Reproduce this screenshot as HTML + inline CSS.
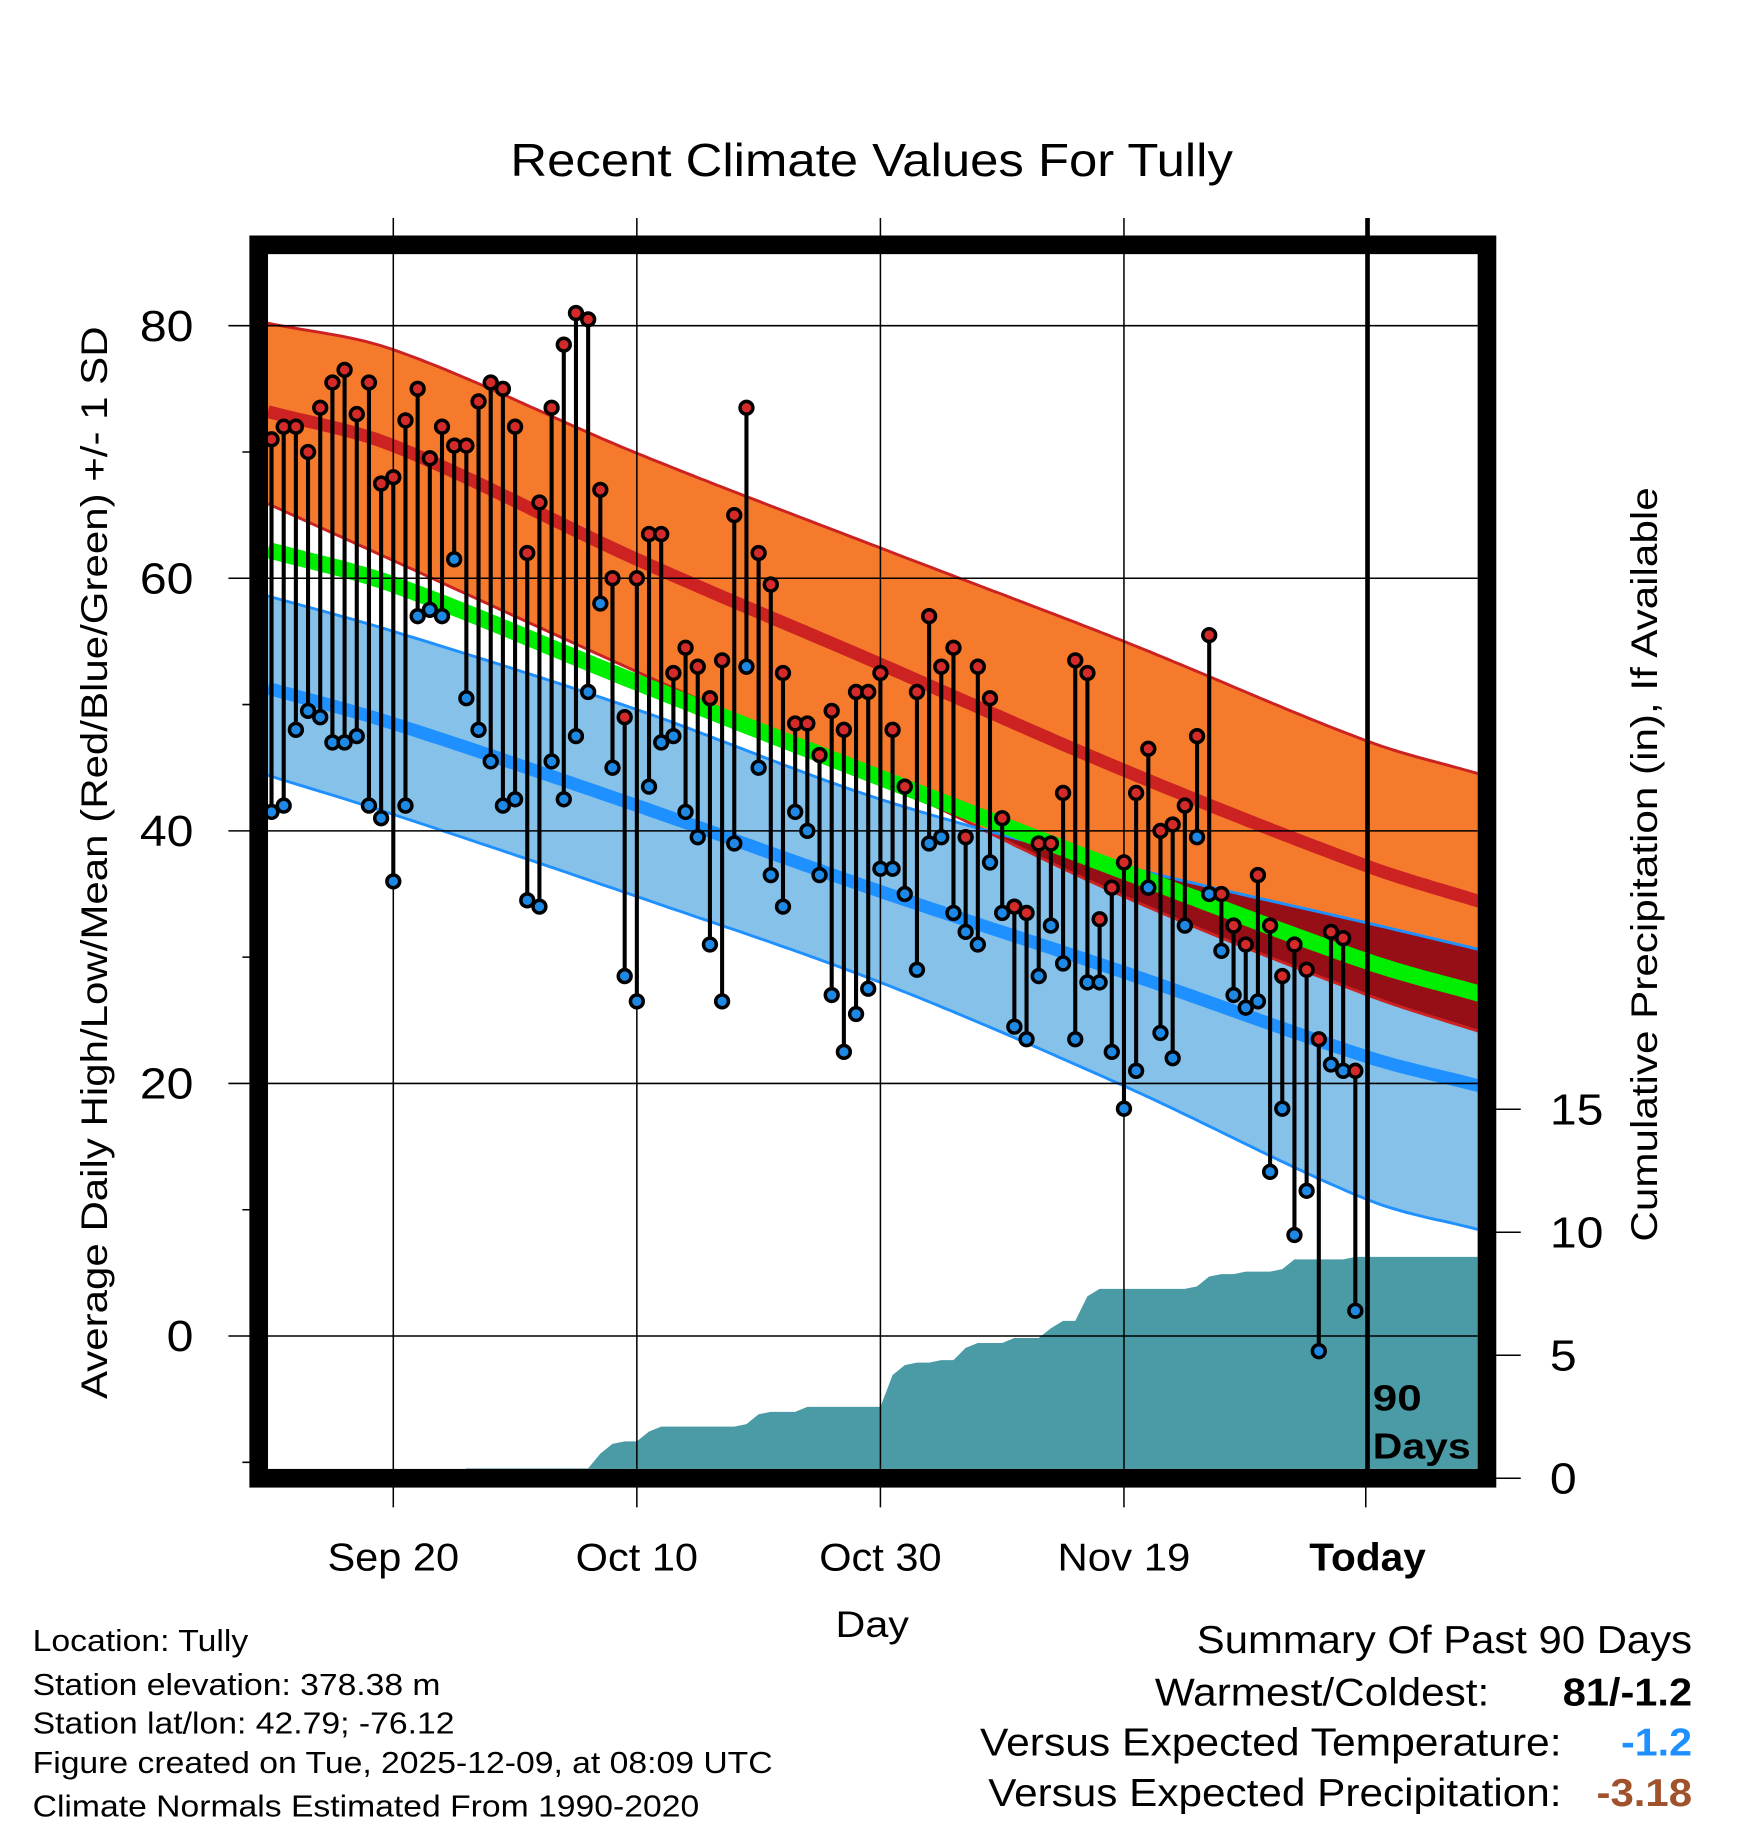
<!DOCTYPE html>
<html><head><meta charset="utf-8"><style>
html,body{margin:0;padding:0;background:#fff}
svg{display:block}
text{font-family:"Liberation Sans",sans-serif}
</style></head><body>
<svg id="chart" xmlns="http://www.w3.org/2000/svg" width="1748" height="1828" viewBox="0 0 1500 1568" preserveAspectRatio="none">
<defs><clipPath id="plotclip"><rect x="230" y="217" width="1038" height="1043"/></clipPath></defs>
<g id="bands" clip-path="url(#plotclip)"></g>
<g id="grid"></g>
<g id="marks"></g>
<rect x="222" y="210" width="1054" height="1058" fill="none" stroke="#000" stroke-width="16"/>
<text x="438" y="151" font-size="40" textLength="620" lengthAdjust="spacingAndGlyphs">Recent Climate Values For Tully</text>
<text transform="translate(92,1200) rotate(-90)" font-size="32" textLength="920" lengthAdjust="spacingAndGlyphs">Average Daily High/Low/Mean (Red/Blue/Green) +/- 1 SD</text>
<text transform="translate(1422,1065) rotate(-90)" font-size="32" textLength="647" lengthAdjust="spacingAndGlyphs">Cumulative Precipitation (in), If Available</text>
<text x="717" y="1404" font-size="32" textLength="63" lengthAdjust="spacingAndGlyphs">Day</text>
<g id="ticks"></g>
<text x="1178" y="1210" font-size="31" font-weight="bold" textLength="42" lengthAdjust="spacingAndGlyphs">90</text>
<text x="1178" y="1251" font-size="31" font-weight="bold" textLength="84" lengthAdjust="spacingAndGlyphs">Days</text>
<g font-size="26">
<text x="28" y="1416" textLength="185" lengthAdjust="spacingAndGlyphs">Location: Tully</text>
<text x="28" y="1454" textLength="350" lengthAdjust="spacingAndGlyphs">Station elevation: 378.38 m</text>
<text x="28" y="1487" textLength="362" lengthAdjust="spacingAndGlyphs">Station lat/lon: 42.79; -76.12</text>
<text x="28" y="1521" textLength="635" lengthAdjust="spacingAndGlyphs">Figure created on Tue, 2025-12-09, at 08:09 UTC</text>
<text x="28" y="1558" textLength="572" lengthAdjust="spacingAndGlyphs">Climate Normals Estimated From 1990-2020</text>
</g>
<g font-size="33">
<text x="1027" y="1418" textLength="425" lengthAdjust="spacingAndGlyphs">Summary Of Past 90 Days</text>
<text x="991" y="1463" textLength="287" lengthAdjust="spacingAndGlyphs">Warmest/Coldest:</text>
<text x="1341" y="1463" font-weight="bold" textLength="111" lengthAdjust="spacingAndGlyphs">81/-1.2</text>
<text x="841" y="1506" textLength="499" lengthAdjust="spacingAndGlyphs">Versus Expected Temperature:</text>
<text x="1391" y="1506" font-weight="bold" fill="#1e90ff" textLength="61" lengthAdjust="spacingAndGlyphs">-1.2</text>
<text x="848" y="1549" textLength="492" lengthAdjust="spacingAndGlyphs">Versus Expected Precipitation:</text>
<text x="1370" y="1549" font-weight="bold" fill="#a0522d" textLength="82" lengthAdjust="spacingAndGlyphs">-3.18</text>
</g>
</svg>
<script>
const highs=[71,72,72,70,73.5,75.5,76.5,73,75.5,67.5,68,72.5,75,69.5,72,70.5,70.5,74,75.5,75,72,62,66,73.5,78.5,81,80.5,67,60,49,60,63.5,63.5,52.5,54.5,53,50.5,53.5,65,73.5,62,59.5,52.5,48.5,48.5,46,49.5,48,51,51,52.5,48,43.5,51,57,53,54.5,39.5,53,50.5,41,34,33.5,39,39,43,53.5,52.5,33,35.5,37.5,43,46.5,40,40.5,42,47.5,55.5,35,32.5,31,36.5,32.5,28.5,31,29,23.5,32,31.5,21];
const lows=[41.5,42,48,49.5,49,47,47,47.5,42,41,36,42,57,57.5,57,61.5,50.5,48,45.5,42,42.5,34.5,34,45.5,42.5,47.5,51,58,45,28.5,26.5,43.5,47,47.5,41.5,39.5,31,26.5,39,53,45,36.5,34,41.5,40,36.5,27,22.5,25.5,27.5,37,37,35,29,39,39.5,33.5,32,31,37.5,33.5,24.5,23.5,28.5,32.5,29.5,23.5,28,28,22.5,18,21,35.5,24,22,32.5,39.5,35,30.5,27,26,26.5,13,18,8,11.5,-1.2,21.5,21,2];
const precip=[0,0,0,0,0,0,0,0,0,0,0,0,0,0,0,0,0.4,0.4,0.4,0.4,0.4,0.4,0.4,0.4,0.4,0.4,0.4,1.0,1.4,1.5,1.5,1.9,2.1,2.1,2.1,2.1,2.1,2.1,2.1,2.2,2.6,2.7,2.7,2.7,2.9,2.9,2.9,2.9,2.9,2.9,2.9,4.2,4.6,4.7,4.7,4.8,4.8,5.3,5.5,5.5,5.5,5.7,5.7,5.7,6.1,6.4,6.4,7.4,7.7,7.7,7.7,7.7,7.7,7.7,7.7,7.7,7.8,8.2,8.3,8.3,8.4,8.4,8.4,8.5,8.9,8.9,8.9,8.9,8.9,9.0];
const normDays=[-0.3,10,30,50,70,90,99.2];
const highPlusSD=[80.2,78.1,69.9,62.4,55.0,47.1,44.5];
const highMean=[73.2,70.5,61.5,53.2,44.8,37.2,34.4];
const highMinusSD=[65.9,61.4,52.6,44.0,34.8,27.0,24.1];
const lowPlusSD=[58.6,55.8,49.6,42.5,37.2,32.7,30.6];
const lowMean=[51.3,48.5,42.0,35.2,28.8,22.1,19.8];
const lowMinusSD=[44.4,41.3,34.8,28.0,19.8,10.8,8.4];
const xTickDays=[10,30,50,70,90];
const xTickLabels=["Sep 20","Oct 10","Oct 30","Nov 19","Today"];
const xTickWidths=[113,105,105,114,100];
const yTicks=[0,20,40,60,80];
const yMinor=[-10,10,30,50,70];
const pTicks=[0,5,10,15];

const NS="http://www.w3.org/2000/svg";
const X=d=>233+10.45*d;
const Y=t=>1146-t*10.833;
const YP=p=>1268-p*21.1;
function mk(tag,attrs,parent){const e=document.createElementNS(NS,tag);for(const k in attrs)e.setAttribute(k,attrs[k]);parent.appendChild(e);return e;}
function slope(arr,i){const n=arr.length;const a=Math.max(0,i-1),b=Math.min(n-1,i+1);return (arr[b]-arr[a])/(normDays[b]-normDays[a]);}
function interp(arr,d){const n=normDays.length;let i=0;while(i<n-2&&d>normDays[i+1])i++;
const h=normDays[i+1]-normDays[i];let t=(d-normDays[i])/h;t=Math.max(0,Math.min(1,t));
const m0=slope(arr,i)*h,m1=slope(arr,i+1)*h;const t2=t*t,t3=t2*t;
return (2*t3-3*t2+1)*arr[i]+(t3-2*t2+t)*m0+(-2*t3+3*t2)*arr[i+1]+(t3-t2)*m1;}
const samples=[];for(let d=normDays[0];d<=normDays[normDays.length-1]+0.01;d+=0.5)samples.push(d);
function line(arr){return samples.map(d=>X(d).toFixed(1)+','+Y(interp(arr,d)).toFixed(1)).join(' ');}
function band(a,b){const top=samples.map(d=>X(d).toFixed(1)+','+Y(interp(a,d)).toFixed(1));const bot=samples.slice().reverse().map(d=>X(d).toFixed(1)+','+Y(interp(b,d)).toFixed(1));return top.concat(bot).join(' ');}
const bands=document.getElementById('bands');
let pp=[X(precip.length-1+10.3)+','+1268, X(-0.3)+','+1268];
for(let i=0;i<precip.length;i++)pp.push(X(i)+','+YP(precip[i]));
pp.push(X(precip.length-1+10.3)+','+YP(precip[precip.length-1]));
let e=mk('polygon',{points:pp.join(' '),fill:'#4a9ba5'},bands);


e=mk('polygon',{points:band(highPlusSD,highMinusSD),fill:'#f57a2c'},bands);


e=mk('polygon',{points:band(lowPlusSD,lowMinusSD),fill:'#85c1e9'},bands);


const ov=samples.map(d=>X(d).toFixed(1)+','+Y(interp(lowPlusSD,d)).toFixed(1)).concat(samples.slice().reverse().map(d=>{const a=interp(lowPlusSD,d),b=interp(highMinusSD,d);return X(d).toFixed(1)+','+Y(Math.min(a,b)).toFixed(1);}));
e=mk('polygon',{points:ov.join(' '),fill:'#960f17'},bands);


const meanArr=highMean.map((v,i)=>(v+lowMean[i])/2);
const lines=[[highPlusSD,'#cc2222',2.5,'high-plus-sd-line'],[highMinusSD,'#cc2222',2.5,'high-minus-sd-line'],[lowPlusSD,'#1e90ff',2.5,'low-plus-sd-line'],[lowMinusSD,'#1e90ff',2.5,'low-minus-sd-line'],[highMean,'#cc2222',11,'normal-high-line'],[lowMean,'#1e90ff',11,'normal-low-line'],[meanArr,'#00ee00',14,'normal-mean-line']];
for(const l of lines){e=mk('polyline',{points:line(l[0]),fill:'none',stroke:l[1],'stroke-width':l[2]},bands);

}
const grid=document.getElementById('grid'),ticks=document.getElementById('ticks');
yTicks.forEach(t=>{e=mk('line',{x1:196,x2:1268,y1:Y(t),y2:Y(t),stroke:'#000','stroke-width':1.3},grid);


const s=String(t);
e=mk('text',{x:166-23*s.length,y:Y(t)+13,'font-size':37,textLength:23*s.length,lengthAdjust:'spacingAndGlyphs'},ticks);e.textContent=s;

});
yMinor.forEach(t=>{e=mk('line',{x1:208,x2:222,y1:Y(t),y2:Y(t),stroke:'#000','stroke-width':1.3},grid);

});
xTickDays.forEach((d,i)=>{const last=i==xTickDays.length-1;
e=mk('line',{x1:X(d),x2:X(d),y1:187,y2:last?1268:1293,stroke:'#000','stroke-width':last?4:1.3},grid);


e=mk('text',{x:X(d)-xTickWidths[i]/2,y:1347,'font-size':33,'font-weight':last?'bold':'normal',textLength:xTickWidths[i],lengthAdjust:'spacingAndGlyphs'},ticks);e.textContent=xTickLabels[i];

});
mk('line',{x1:1172,x2:1172,y1:1268,y2:1293,stroke:'#000','stroke-width':1.3},grid);
pTicks.forEach(p=>{e=mk('line',{x1:1276,x2:1305,y1:YP(p),y2:YP(p),stroke:'#000','stroke-width':1.3},grid);


const s=String(p);
e=mk('text',{x:1330,y:YP(p)+13,'font-size':37,textLength:23*s.length,lengthAdjust:'spacingAndGlyphs'},ticks);e.textContent=s;

});
const marks=document.getElementById('marks');
for(let i=0;i<highs.length;i++){
e=mk('line',{x1:X(i),x2:X(i),y1:Y(highs[i]),y2:Y(lows[i]),stroke:'#000','stroke-width':3.5},marks);

}
for(let i=0;i<highs.length;i++){
e=mk('circle',{cx:X(i),cy:Y(lows[i]),r:5.5,fill:'#1e88e5',stroke:'#000','stroke-width':3},marks);


e=mk('circle',{cx:X(i),cy:Y(highs[i]),r:5.5,fill:'#d42a2a',stroke:'#000','stroke-width':3},marks);

}
</script>
</body></html>
